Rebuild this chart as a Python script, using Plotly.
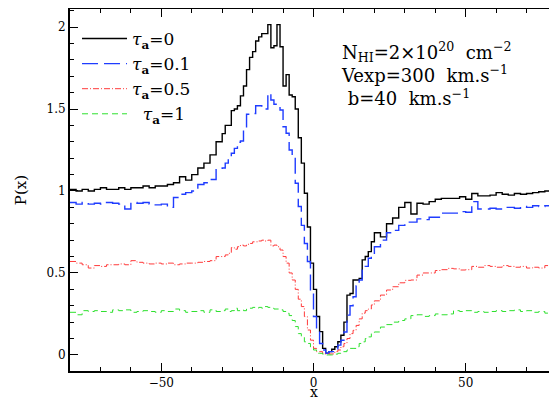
import numpy as np
import plotly.graph_objects as go

# bin left edges: 2-unit bins (-80..-30), 1-unit bins (-30..20), 2-unit bins (20..80)
x_left = np.concatenate([np.arange(-80, -30, 2), np.arange(-30, 20, 1), np.arange(20, 80, 2)])
x_right_edge = 80

p_tau0 = [
    # -80 .. -32 (2-unit)
    1.01, 1.00, 1.01, 1.00, 1.01, 1.02, 1.01, 1.01, 1.02, 1.01, 1.02, 1.02, 1.03,
    1.02, 1.03, 1.03, 1.04, 1.05, 1.087, 1.066, 1.10, 1.14, 1.17, 1.22, 1.30,
    # -30 .. 19 (1-unit)
    1.35, 1.40, 1.40, 1.49, 1.50, 1.52, 1.58, 1.64, 1.74, 1.815,
    1.85, 1.915, 1.94, 1.96, 1.96, 2.015, 1.874, 1.886, 2.015, 1.88,
    1.64, 1.71, 1.585, 1.575, 1.50, 1.325, 1.17, 0.986, 0.78, 0.56,
    0.40, 0.234, 0.142, 0.04, 0.01, 0.02, 0.035, 0.05, 0.08, 0.12,
    0.20, 0.365, 0.375, 0.457, 0.457, 0.467, 0.58, 0.60, 0.63, 0.69,
    # 20 .. 78 (2-unit)
    0.745, 0.72, 0.80, 0.835, 0.90, 0.93, 0.86, 0.925, 0.92, 0.935,
    0.95, 0.955, 0.955, 0.955, 0.965, 0.95, 0.985, 0.97, 0.97, 0.975,
    0.99, 0.98, 0.975, 0.985, 0.98, 0.985, 0.99, 0.995, 1.00, 0.995,
]

p_tau01 = [
    0.93, 0.92, 0.93, 0.92, 0.925, 0.92, 0.93, 0.925, 0.92, 0.89, 0.93, 0.925, 0.93,
    0.92, 0.915, 0.92, 0.90, 0.96, 0.98, 0.99, 1.00, 1.04, 1.05, 1.07, 1.13,
    1.14, 1.17, 1.20, 1.23, 1.26, 1.297, 1.305, 1.386, 1.468, 1.468,
    1.473, 1.52, 1.52, 1.508, 1.50, 1.596, 1.555, 1.529, 1.529, 1.494,
    1.392, 1.352, 1.25, 1.209, 1.047, 0.905, 0.79, 0.68, 0.57, 0.376,
    0.234, 0.15, 0.07, 0.03, 0.01, 0.02, 0.02, 0.035, 0.06, 0.09,
    0.14, 0.243, 0.30, 0.355, 0.42, 0.457, 0.518, 0.54, 0.59, 0.61,
    0.66, 0.70, 0.745, 0.76, 0.79, 0.81, 0.81, 0.83, 0.825, 0.84,
    0.84, 0.865, 0.865, 0.865, 0.874, 0.87, 0.935, 0.89, 0.89, 0.895,
    0.89, 0.90, 0.90, 0.895, 0.905, 0.90, 0.91, 0.905, 0.91, 0.905,
]

p_tau05 = [
    0.57, 0.56, 0.55, 0.53, 0.545, 0.54, 0.55, 0.55, 0.555, 0.55, 0.575, 0.565, 0.56,
    0.555, 0.56, 0.555, 0.56, 0.55, 0.555, 0.56, 0.56, 0.565, 0.57, 0.575, 0.60,
    0.60, 0.61, 0.62, 0.655, 0.645, 0.66, 0.67, 0.665, 0.675, 0.68,
    0.69, 0.69, 0.695, 0.70, 0.695, 0.70, 0.665, 0.67, 0.66, 0.64,
    0.60, 0.56, 0.50, 0.457, 0.40, 0.34, 0.295, 0.234, 0.152, 0.09,
    0.04, 0.02, 0.02, 0.006, 0.006, 0.006, 0.006, 0.02, 0.03, 0.05,
    0.07, 0.10, 0.13, 0.15, 0.18, 0.22, 0.255, 0.27, 0.28, 0.305,
    0.33, 0.365, 0.396, 0.416, 0.44, 0.455, 0.457, 0.487, 0.50, 0.50,
    0.515, 0.52, 0.528, 0.525, 0.518, 0.52, 0.54, 0.535, 0.545, 0.54,
    0.535, 0.545, 0.54, 0.535, 0.54, 0.53, 0.535, 0.53, 0.545, 0.57,
]

p_tau1 = [
    0.26, 0.245, 0.27, 0.265, 0.27, 0.265, 0.26, 0.275, 0.27, 0.275, 0.26, 0.265, 0.27,
    0.265, 0.26, 0.27, 0.265, 0.28, 0.27, 0.26, 0.265, 0.27, 0.26, 0.275, 0.265,
    0.27, 0.28, 0.265, 0.27, 0.285, 0.27, 0.275, 0.27, 0.28, 0.285,
    0.29, 0.285, 0.29, 0.285, 0.295, 0.29, 0.285, 0.28, 0.28, 0.275,
    0.265, 0.254, 0.24, 0.21, 0.173, 0.13, 0.11, 0.08, 0.07, 0.04,
    0.03, 0.01, 0.01, 0.005, 0.0, 0.0, 0.0, 0.005, 0.01, 0.02,
    0.02, 0.03, 0.04, 0.04, 0.05, 0.07, 0.08, 0.10, 0.11, 0.13,
    0.14, 0.17, 0.185, 0.20, 0.21, 0.22, 0.24, 0.245, 0.235, 0.24,
    0.25, 0.245, 0.25, 0.27, 0.265, 0.27, 0.26, 0.265, 0.26, 0.265,
    0.27, 0.265, 0.27, 0.275, 0.265, 0.27, 0.26, 0.265, 0.255, 0.25,
]

series_names = [
    "<i>τ</i><sub><b>a</b></sub>=0",
    "<i>τ</i><sub><b>a</b></sub>=0.1",
    "<i>τ</i><sub><b>a</b></sub>=0.5",
    "  <i>τ</i><sub><b>a</b></sub>=1",
]
series_values = [p_tau0, p_tau01, p_tau05, p_tau1]
series_colors = ["#000000", "#1f3cff", "#ff3a3a", "#2ee02e"]
series_dash = ["solid", "16px,6px", "6px,2px,1px,2px", "6px,4px"]
series_width = [1.4, 1.4, 1.0, 1.0]

param_lines = [
    "N<sub>HI</sub>=2×10<sup>20</sup>  cm<sup>−2</sup>",
    "Vexp=300  km.s<sup>−1</sup>",
    "\u00a0b=40  km.s<sup>−1</sup>",
]

FONT = "DejaVu Serif"

fig = go.Figure()
xs = list(x_left) + [x_right_edge]
for name, vals, col, dash, w in zip(series_names, series_values, series_colors, series_dash, series_width):
    ys = list(vals) + [vals[-1]]
    fig.add_trace(go.Scatter(
        x=xs, y=ys, mode="lines", name=name,
        line=dict(color=col, dash=dash, width=w, shape="hv"),
    ))

axis_common = dict(
    showline=True, linecolor="black", linewidth=2, mirror="ticks",
    ticks="inside", ticklen=8, tickwidth=1, tickcolor="black",
    showgrid=False, zeroline=False, automargin=False,
    tickfont=dict(family=FONT, size=12, color="black"),
)

fig.update_xaxes(range=[-80, 80], dtick=50, tick0=0,
                 minor=dict(dtick=10, ticks="inside", ticklen=4, tickcolor="black", showgrid=False),
                 **axis_common)
fig.update_yaxes(range=[-0.098, 2.11], dtick=0.5, tick0=0,
                 minor=dict(dtick=0.1, ticks="inside", ticklen=4, tickcolor="black", showgrid=False),
                 title=dict(text="P(x)", font=dict(family=FONT, size=15, color="black"), standoff=16),
                 **axis_common)

# x-axis title placed just under the tick labels
fig.add_annotation(xref="paper", yref="paper", x=0.5, y=-0.0856, xanchor="center", yanchor="bottom",
                   text="x", showarrow=False, font=dict(family=FONT, size=14, color="black"))

fig.add_annotation(xref="paper", yref="paper", x=0.553, y=0.922, xanchor="left", yanchor="top",
                   align="left", text="<br>".join(param_lines), showarrow=False,
                   font=dict(family=FONT, size=18, color="black"))

# the page has an 8px body margin, so the figure is sized to fill the 557x402 window from (8,8)
fig.update_layout(
    width=549, height=394,
    margin=dict(l=62, r=0, t=1, b=31),
    paper_bgcolor="white", plot_bgcolor="white",
    showlegend=True,
    legend=dict(x=0.0144, y=0.967, xanchor="left", yanchor="top",
                bgcolor="rgba(0,0,0,0)", borderwidth=0,
                font=dict(family=FONT, size=17, color="black"),
                tracegroupgap=0, itemwidth=45),
)

fig.write_html("out.html")
